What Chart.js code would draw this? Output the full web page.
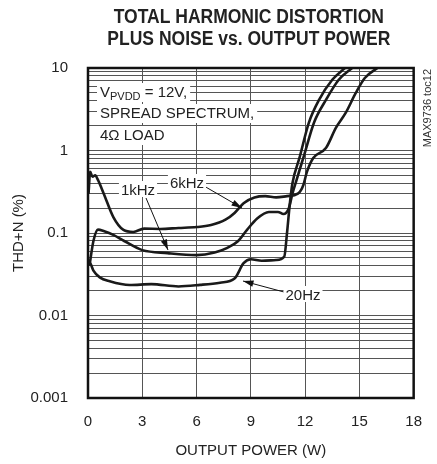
<!DOCTYPE html>
<html>
<head>
<meta charset="utf-8">
<script src="https://cdn.jsdelivr.net/npm/chart.js@4/dist/chart.umd.min.js"></script>
<style>
  html, body { margin: 0; padding: 0; background: #fff; }
  #wrap { width: 437px; height: 464px; }
</style>
</head>
<body>
<div id="wrap"><canvas id="chart" width="437" height="464"></canvas></div>
<script>
// data
const p20 = [0.05, 0.15, 0.3, 0.65, 1.2, 2.3, 3.5, 5, 6.2, 7.3, 8.1, 8.6, 9.0, 9.6, 10.4, 10.85, 11.0, 11.15, 11.3, 11.7, 12.2, 12.77, 13.5, 14.2];
const thd20 = [0.045, 0.042, 0.035, 0.029, 0.026, 0.0234, 0.024, 0.0225, 0.0235, 0.025, 0.028, 0.043, 0.048, 0.046, 0.047, 0.052, 0.1, 0.22, 0.4, 0.83, 2.15, 4.1, 7.2, 10];

const p1k = [0.08, 0.3, 0.55, 0.9, 1.4, 2.0, 3.0, 4.4, 6.0, 7.0, 7.7, 8.3, 8.8, 9.35, 10.0, 10.5, 10.8, 11.1, 11.3, 11.5, 11.96, 12.5, 13.15, 13.86, 14.6];
const thd1k = [0.04, 0.08, 0.11, 0.105, 0.095, 0.08, 0.062, 0.057, 0.054, 0.058, 0.066, 0.08, 0.11, 0.15, 0.18, 0.18, 0.17, 0.2, 0.3, 0.42, 0.9, 2.2, 4.1, 7.2, 10];

const p6k = [0.03, 0.12, 0.25, 0.4, 0.55, 0.87, 1.4, 1.96, 2.5, 3.1, 4, 5, 6, 6.8, 7.6, 8.1, 8.6, 9.2, 9.8, 10.4, 11.0, 11.6, 11.9, 12.1, 12.45, 13.15, 13.7, 14.24, 14.8, 15.3, 16.0];
const thd6k = [0.3, 0.55, 0.48, 0.5, 0.44, 0.3, 0.156, 0.109, 0.103, 0.113, 0.112, 0.115, 0.118, 0.125, 0.145, 0.175, 0.23, 0.27, 0.28, 0.27, 0.28, 0.3, 0.38, 0.55, 0.81, 1.07, 1.88, 2.85, 4.98, 7.57, 10];

const xTicks = [0, 3, 6, 9, 12, 15, 18];
const yDecades = [0.001, 0.01, 0.1, 1, 10];
const titleLines = ['TOTAL HARMONIC DISTORTION', 'PLUS NOISE vs. OUTPUT POWER'];

const FONT = "'Liberation Sans', Arial, sans-serif";

function pts(xs, ys) {
    return xs.map((x, i) => ({ x: x, y: ys[i] }));
}

// minor log grid 1..9 x each decade
const yGrid = [];
yDecades.forEach(d => {
    for (let k = 1; k <= 9; k++) {
        const v = +(d * k).toPrecision(3);
        if (v <= 10) yGrid.push(v);
    }
});

// title, labels, arrows and frame
const notes = {
    id: 'notes',
    afterDatasetsDraw(chart) {
        const ctx = chart.ctx;
        const a = chart.chartArea;

        ctx.save();

        // condensed bold title over the plot
        ctx.save();
        ctx.font = 'bold 20px ' + FONT;
        ctx.fillStyle = '#222';
        ctx.textAlign = 'center';
        ctx.textBaseline = 'alphabetic';
        const cx = (a.left + a.right) / 2 - 2;
        ctx.translate(cx, 0);
        ctx.scale(0.875, 1);
        ctx.fillText(titleLines[0], 0, 23);
        ctx.fillText(titleLines[1], 0, 45);
        ctx.restore();

        ctx.font = '15px ' + FONT;
        ctx.textBaseline = 'alphabetic';

        function label(text, cx, cy) {
            const w = ctx.measureText(text).width;
            ctx.fillStyle = '#fff';
            ctx.fillRect(cx - w / 2 - 2, cy - 9, w + 4, 16);
            ctx.fillStyle = '#222';
            ctx.textAlign = 'center';
            ctx.fillText(text, cx, cy + 5);
        }

        function arrow(x1, y1, x2, y2) {
            ctx.strokeStyle = '#111';
            ctx.lineWidth = 1;
            ctx.beginPath();
            ctx.moveTo(x1, y1);
            ctx.lineTo(x2, y2);
            ctx.stroke();
            const ang = Math.atan2(y2 - y1, x2 - x1);
            ctx.fillStyle = '#111';
            ctx.beginPath();
            ctx.moveTo(x2, y2);
            ctx.lineTo(x2 - 11 * Math.cos(ang - 0.3), y2 - 11 * Math.sin(ang - 0.3));
            ctx.lineTo(x2 - 11 * Math.cos(ang + 0.3), y2 - 11 * Math.sin(ang + 0.3));
            ctx.closePath();
            ctx.fill();
        }

        // condition box
        const lines = ['SPREAD SPECTRUM,', '4\u03A9 LOAD'];
        ctx.textAlign = 'left';
        const tx = a.left + 12;
        ctx.font = '15px ' + FONT;
        const wV = ctx.measureText('V').width;
        ctx.font = '11px ' + FONT;
        const wSub = ctx.measureText('PVDD').width;
        ctx.font = '15px ' + FONT;
        const wRest = ctx.measureText(' = 12V,').width;
        ctx.fillStyle = '#fff';
        ctx.fillRect(tx - 3, 83, wV + wSub + wRest + 6, 19);
        ctx.fillRect(tx - 3, 104, ctx.measureText(lines[0]).width + 6, 19);
        ctx.fillRect(tx - 3, 126, ctx.measureText(lines[1]).width + 6, 19);
        ctx.fillStyle = '#222';
        ctx.fillText('V', tx, 97);
        ctx.font = '11px ' + FONT;
        ctx.fillText('PVDD', tx + wV, 100);
        ctx.font = '15px ' + FONT;
        ctx.fillText(' = 12V,', tx + wV + wSub, 97);
        ctx.fillText(lines[0], tx, 118);
        ctx.fillText(lines[1], tx, 140);

        // curve labels
        arrow(204, 186, 242, 208);
        label('6kHz', 187, 183);
        arrow(146, 198, 168, 250);
        label('1kHz', 138, 190);
        arrow(284, 292, 243, 281);
        label('20Hz', 303, 295);

        // frame
        ctx.strokeStyle = '#111';
        ctx.lineWidth = 2.5;
        ctx.strokeRect(a.left, a.top, a.right - a.left, a.bottom - a.top);

        // side note
        ctx.translate(428, 69);
        ctx.rotate(-Math.PI / 2);
        ctx.font = '11px ' + FONT;
        ctx.fillStyle = '#333';
        ctx.textAlign = 'right';
        ctx.textBaseline = 'middle';
        ctx.fillText('MAX9736 toc12', 0, 0);
        ctx.restore();
    }
};

const line = {
    borderColor: '#1a1a1a',
    borderWidth: 2.6,
    pointRadius: 0,
    fill: false,
    tension: 0.35,
    cubicInterpolationMode: 'monotone'
};

new Chart(document.querySelector('#chart'), {
    type: 'line',
    data: {
        datasets: [
            Object.assign({ label: '20Hz', data: pts(p20, thd20) }, line),
            Object.assign({ label: '1kHz', data: pts(p1k, thd1k) }, line),
            Object.assign({ label: '6kHz', data: pts(p6k, thd6k) }, line)
        ]
    },
    options: {
        responsive: false,
        animation: false,
        layout: { padding: { top: 68, right: 18, bottom: 0, left: 0 } },
        plugins: {
            legend: { display: false },
            tooltip: { enabled: false },
            title: { display: false }
        },
        scales: {
            x: {
                type: 'linear',
                min: 0,
                max: 18,
                afterBuildTicks: s => { s.ticks = xTicks.map(v => ({ value: v })); },
                afterFit: s => { s.height = 66; },
                grid: { color: '#555', lineWidth: 1, drawTicks: false },
                border: { display: false },
                ticks: { color: '#222', font: { family: FONT, size: 15 }, padding: 15, maxRotation: 0 },
                title: {
                    display: true,
                    text: 'OUTPUT POWER (W)',
                    color: '#222',
                    font: { family: FONT, size: 15 },
                    padding: { top: 6 }
                }
            },
            y: {
                type: 'logarithmic',
                min: 0.001,
                max: 10,
                afterBuildTicks: s => { s.ticks = yGrid.map(v => ({ value: v })); },
                afterFit: s => { s.width = 88; },
                grid: { color: '#555', lineWidth: 1, drawTicks: false },
                border: { display: false },
                ticks: {
                    color: '#222',
                    font: { family: FONT, size: 15 },
                    padding: 20,
                    autoSkip: false,
                    callback: v => yDecades.includes(v) ? String(v) : ''
                },
                title: {
                    display: true,
                    text: 'THD+N (%)',
                    color: '#222',
                    font: { family: FONT, size: 15 },
                    padding: { top: 10, bottom: 0 }
                }
            }
        }
    },
    plugins: [notes]
});
</script>
</body>
</html>
